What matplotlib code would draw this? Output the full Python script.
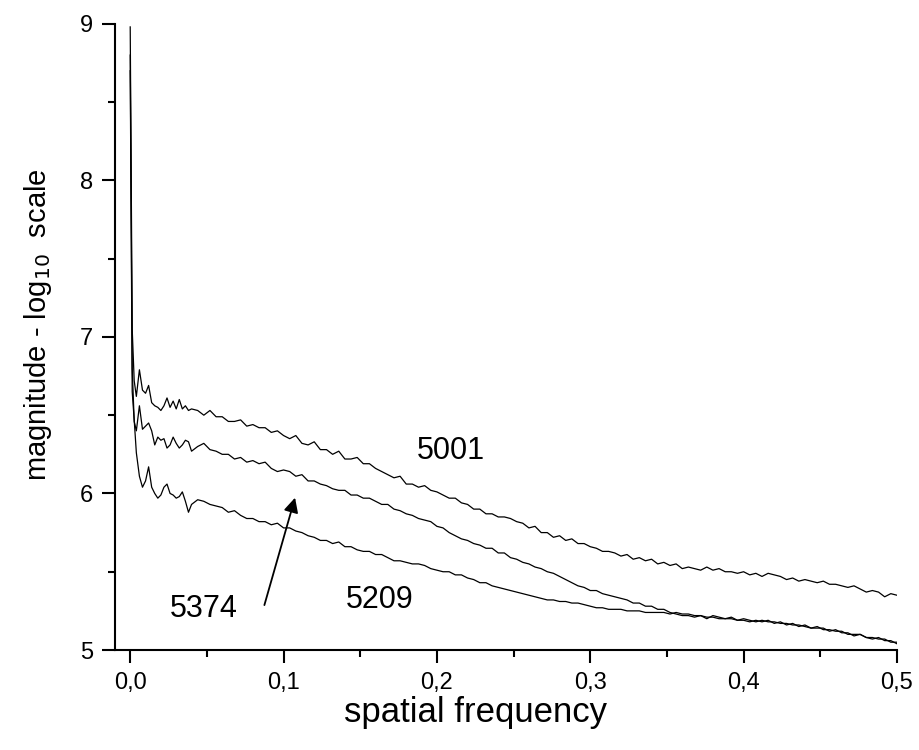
import numpy as np
import matplotlib
matplotlib.use('Agg')
import matplotlib.pyplot as plt
from matplotlib.ticker import MultipleLocator, FuncFormatter

plt.rcParams['font.family'] = ['Liberation Sans', 'DejaVu Sans']

# frequency bins: fine near zero, then every 0.004
freq = np.round(np.concatenate([[0.0, 0.0013, 0.0026, 0.004],
                                np.arange(0.006, 0.0401, 0.002),
                                np.arange(0.044, 0.5001, 0.004)]), 4)

mag_5001 = [8.98, 7.05, 6.72, 6.62,
            6.79, 6.66, 6.64, 6.69, 6.58, 6.56, 6.55, 6.53, 6.56, 6.61,
            6.55, 6.59, 6.54, 6.60, 6.54, 6.56, 6.53, 6.54,
            6.53, 6.50, 6.53, 6.49, 6.49, 6.46, 6.46, 6.47, 6.43, 6.44,
            6.42, 6.42, 6.39, 6.40, 6.37, 6.35, 6.37, 6.32, 6.31, 6.33,
            6.28, 6.28, 6.25, 6.27, 6.22, 6.22, 6.23, 6.19, 6.19, 6.16,
            6.14, 6.12, 6.10, 6.11, 6.06, 6.06, 6.04, 6.05, 6.02, 6.01,
            5.99, 5.97, 5.97, 5.94, 5.93, 5.90, 5.90, 5.87, 5.87, 5.85,
            5.85, 5.84, 5.82, 5.81, 5.78, 5.79, 5.75, 5.75, 5.72, 5.73,
            5.70, 5.71, 5.68, 5.68, 5.66, 5.65, 5.63, 5.63, 5.62, 5.60,
            5.61, 5.58, 5.59, 5.57, 5.58, 5.55, 5.56, 5.54, 5.55, 5.52,
            5.53, 5.52, 5.51, 5.53, 5.51, 5.52, 5.50, 5.50, 5.49, 5.50,
            5.48, 5.49, 5.47, 5.49, 5.48, 5.47, 5.45, 5.46, 5.44, 5.45,
            5.44, 5.43, 5.44, 5.42, 5.42, 5.41, 5.40, 5.41, 5.39, 5.37,
            5.38, 5.37, 5.34, 5.36, 5.35]

mag_5374 = [8.80, 6.80, 6.46, 6.40,
            6.56, 6.41, 6.43, 6.45, 6.40, 6.31, 6.36, 6.34, 6.35, 6.29,
            6.31, 6.36, 6.32, 6.29, 6.31, 6.34, 6.33, 6.27,
            6.30, 6.32, 6.28, 6.27, 6.25, 6.25, 6.22, 6.23, 6.20, 6.21,
            6.19, 6.20, 6.16, 6.14, 6.15, 6.14, 6.11, 6.12, 6.08, 6.08,
            6.06, 6.05, 6.03, 6.02, 6.02, 5.99, 5.99, 5.97, 5.97, 5.95,
            5.93, 5.93, 5.90, 5.89, 5.87, 5.86, 5.84, 5.83, 5.82, 5.79,
            5.78, 5.75, 5.73, 5.71, 5.70, 5.68, 5.67, 5.65, 5.65, 5.62,
            5.62, 5.59, 5.58, 5.56, 5.55, 5.53, 5.52, 5.50, 5.49, 5.47,
            5.45, 5.43, 5.41, 5.40, 5.38, 5.38, 5.36, 5.35, 5.34, 5.33,
            5.32, 5.30, 5.30, 5.28, 5.28, 5.26, 5.26, 5.24, 5.23, 5.22,
            5.22, 5.21, 5.22, 5.20, 5.22, 5.21, 5.20, 5.21, 5.19, 5.20,
            5.19, 5.18, 5.19, 5.18, 5.18, 5.17, 5.17, 5.16, 5.16, 5.15,
            5.14, 5.15, 5.13, 5.13, 5.12, 5.12, 5.10, 5.10, 5.10, 5.08,
            5.08, 5.07, 5.07, 5.05, 5.05]

mag_5209 = [8.70, 6.65, 6.47, 6.26,
            6.11, 6.04, 6.08, 6.17, 6.04, 6.00, 5.97, 5.99, 6.04, 6.06,
            6.00, 5.99, 5.97, 5.98, 6.01, 5.95, 5.88, 5.93,
            5.96, 5.95, 5.93, 5.92, 5.91, 5.88, 5.89, 5.86, 5.84, 5.84,
            5.82, 5.82, 5.80, 5.81, 5.78, 5.78, 5.76, 5.75, 5.73, 5.72,
            5.70, 5.70, 5.68, 5.69, 5.66, 5.66, 5.64, 5.63, 5.63, 5.61,
            5.61, 5.59, 5.57, 5.57, 5.56, 5.55, 5.55, 5.54, 5.52, 5.51,
            5.50, 5.50, 5.48, 5.48, 5.46, 5.45, 5.43, 5.43, 5.41, 5.40,
            5.39, 5.38, 5.37, 5.36, 5.35, 5.34, 5.33, 5.32, 5.32, 5.31,
            5.31, 5.30, 5.30, 5.29, 5.28, 5.27, 5.27, 5.26, 5.26, 5.26,
            5.25, 5.25, 5.25, 5.24, 5.24, 5.24, 5.24, 5.23, 5.24, 5.23,
            5.23, 5.22, 5.22, 5.21, 5.21, 5.20, 5.20, 5.20, 5.19, 5.19,
            5.18, 5.19, 5.18, 5.19, 5.17, 5.18, 5.16, 5.17, 5.15, 5.16,
            5.14, 5.14, 5.14, 5.12, 5.13, 5.11, 5.11, 5.09, 5.10, 5.08,
            5.07, 5.08, 5.06, 5.06, 5.04]

labels = ['5001', '5209', '5374']
label_pos = [(0.209, 6.27), (0.163, 5.32), (0.048, 5.26)]
arrow_tail = (0.087, 5.27)
arrow_head = (0.108, 5.99)

fig = plt.figure(figsize=(9.19, 7.5), dpi=100)
ax = fig.add_axes([0.125, 0.1333, 0.851, 0.835])

for m in (mag_5001, mag_5374, mag_5209):
    ax.plot(freq, m, color='black', lw=0.9)

for lab, (lx, ly) in zip(labels, label_pos):
    ax.text(lx, ly, lab, fontsize=22, ha='center', va='center')

ax.annotate('', xy=arrow_head, xytext=arrow_tail,
            arrowprops=dict(arrowstyle='-|>', color='black', lw=1.3, mutation_scale=22))

ax.set_xlim(-0.01, 0.5)
ax.set_ylim(5, 9)
ax.spines['top'].set_visible(False)
ax.spines['right'].set_visible(False)
ax.spines['left'].set_linewidth(1.5)
ax.spines['bottom'].set_linewidth(1.5)

ax.xaxis.set_major_locator(MultipleLocator(0.1))
ax.xaxis.set_minor_locator(MultipleLocator(0.05))
ax.yaxis.set_major_locator(MultipleLocator(1))
ax.yaxis.set_minor_locator(MultipleLocator(0.5))
ax.xaxis.set_major_formatter(FuncFormatter(lambda v, p: f'{v:.1f}'.replace('.', ',')))
ax.tick_params(which='major', length=9.5, width=1.5, labelsize=17, pad=6)
ax.tick_params(which='minor', length=5, width=1.5)

ax.set_xlabel('spatial frequency', fontsize=25, va='center')
ax.set_ylabel('magnitude - log$_{10}$  scale', fontsize=21, va='center')
ax.xaxis.set_label_coords(0.4616, -0.1)
ax.yaxis.set_label_coords(-0.0985, 0.519)

fig.savefig('out.png', dpi=100)
